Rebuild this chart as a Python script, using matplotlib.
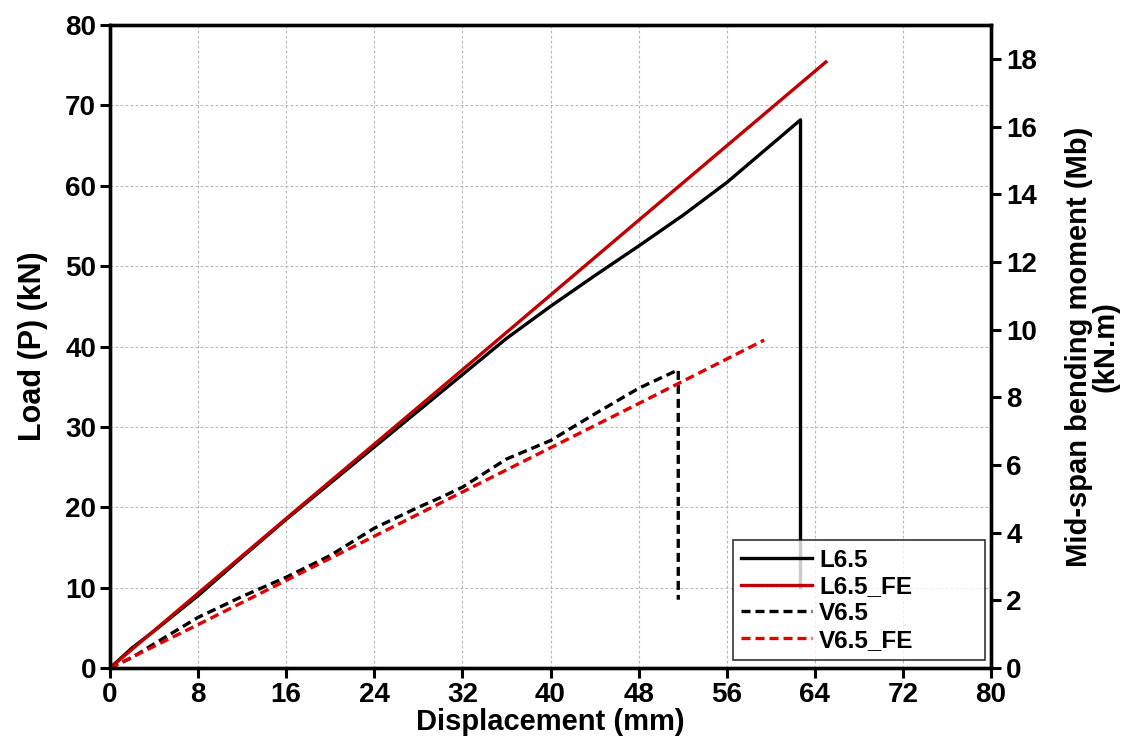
import matplotlib.pyplot as plt

plt.rcParams['font.family'] = ['Liberation Sans', 'DejaVu Sans']
plt.rcParams['font.weight'] = 'bold'

# Test curves (displacement in mm, load in kN)
l65_x = [0, 2, 4, 8, 12, 16, 20, 24, 28, 32, 36, 40, 44, 48, 52, 56, 62.7, 62.7]
l65_y = [0, 2.5, 4.6, 9.0, 13.8, 18.5, 23.0, 27.5, 32.0, 36.5, 41.0, 45.0, 48.8, 52.5, 56.3, 60.4, 68.2, 10.0]

l65fe_x = [0, 16, 32, 48, 65.0]
l65fe_y = [0, 18.6, 37.1, 55.7, 75.4]

v65_x = [0, 2, 4, 8, 12, 16, 20, 24, 28, 30, 32, 36, 40, 44, 48, 51.6, 51.6]
v65_y = [0, 1.3, 3.0, 6.3, 8.9, 11.3, 14.0, 17.4, 20.0, 21.2, 22.5, 26.0, 28.3, 31.6, 34.8, 37.1, 8.5]

v65fe_x = [0, 8, 16, 24, 32, 40, 48, 59.4]
v65fe_y = [0, 5.4, 10.9, 16.4, 21.9, 27.4, 32.9, 40.8]

fig = plt.figure(figsize=(11.36, 7.49), dpi=100)
ax = fig.add_axes([0.0968, 0.1081, 0.7756, 0.8585])

ax.plot(l65_x, l65_y, '-', lw=2.4, color='black', label='L6.5')
ax.plot(l65fe_x, l65fe_y, '-', lw=2.4, color='#c00000', label='L6.5_FE')
ax.plot(v65_x, v65_y, '--', lw=2.4, color='black', label='V6.5', dashes=(2.7, 1.5))
ax.plot(v65fe_x, v65fe_y, '--', lw=2.4, color='#e00000', label='V6.5_FE', dashes=(2.7, 1.5))

ax.set_xlim(0, 80)
ax.set_ylim(0, 80)
ax.set_xticks(range(0, 81, 8))
ax.set_yticks(range(0, 81, 10))
ax.grid(True, linestyle=(0, (2.5, 2)), color='#b8b8b8', lw=0.8)
ax.tick_params(direction='out', length=7, width=2.2, labelsize=20, pad=3)
for s in ax.spines.values():
    s.set_linewidth(2.4)

ax.set_xlabel('Displacement (mm)', fontsize=21, fontweight='bold', labelpad=0)
ax.set_ylabel('Load (P) (kN)', fontsize=22, fontweight='bold', labelpad=12)

# Mid-span moment scale on the right
ax2 = ax.twinx()
ax2.set_ylim(0, 19)
ax2.set_yticks(range(0, 19, 2))
ax2.tick_params(direction='out', length=7, width=2.2, labelsize=20, pad=4)
for s in ax2.spines.values():
    s.set_linewidth(2.4)
ax2.set_ylabel('Mid-span bending moment (Mb)\n(kN.m)', fontsize=21,
               fontweight='bold', labelpad=20, linespacing=0.95)

leg = ax.legend(loc='lower left', bbox_to_anchor=(0.707, 0.0124, 0.286, 0.2), mode='expand',
                fontsize=17.5, handlelength=2.9, frameon=True, fancybox=False,
                edgecolor='black', borderpad=0.35, labelspacing=0.15,
                handletextpad=0.3, borderaxespad=0)
leg.get_frame().set_linewidth(1.2)
leg.set_zorder(5)

plt.savefig('out.png', dpi=100)
